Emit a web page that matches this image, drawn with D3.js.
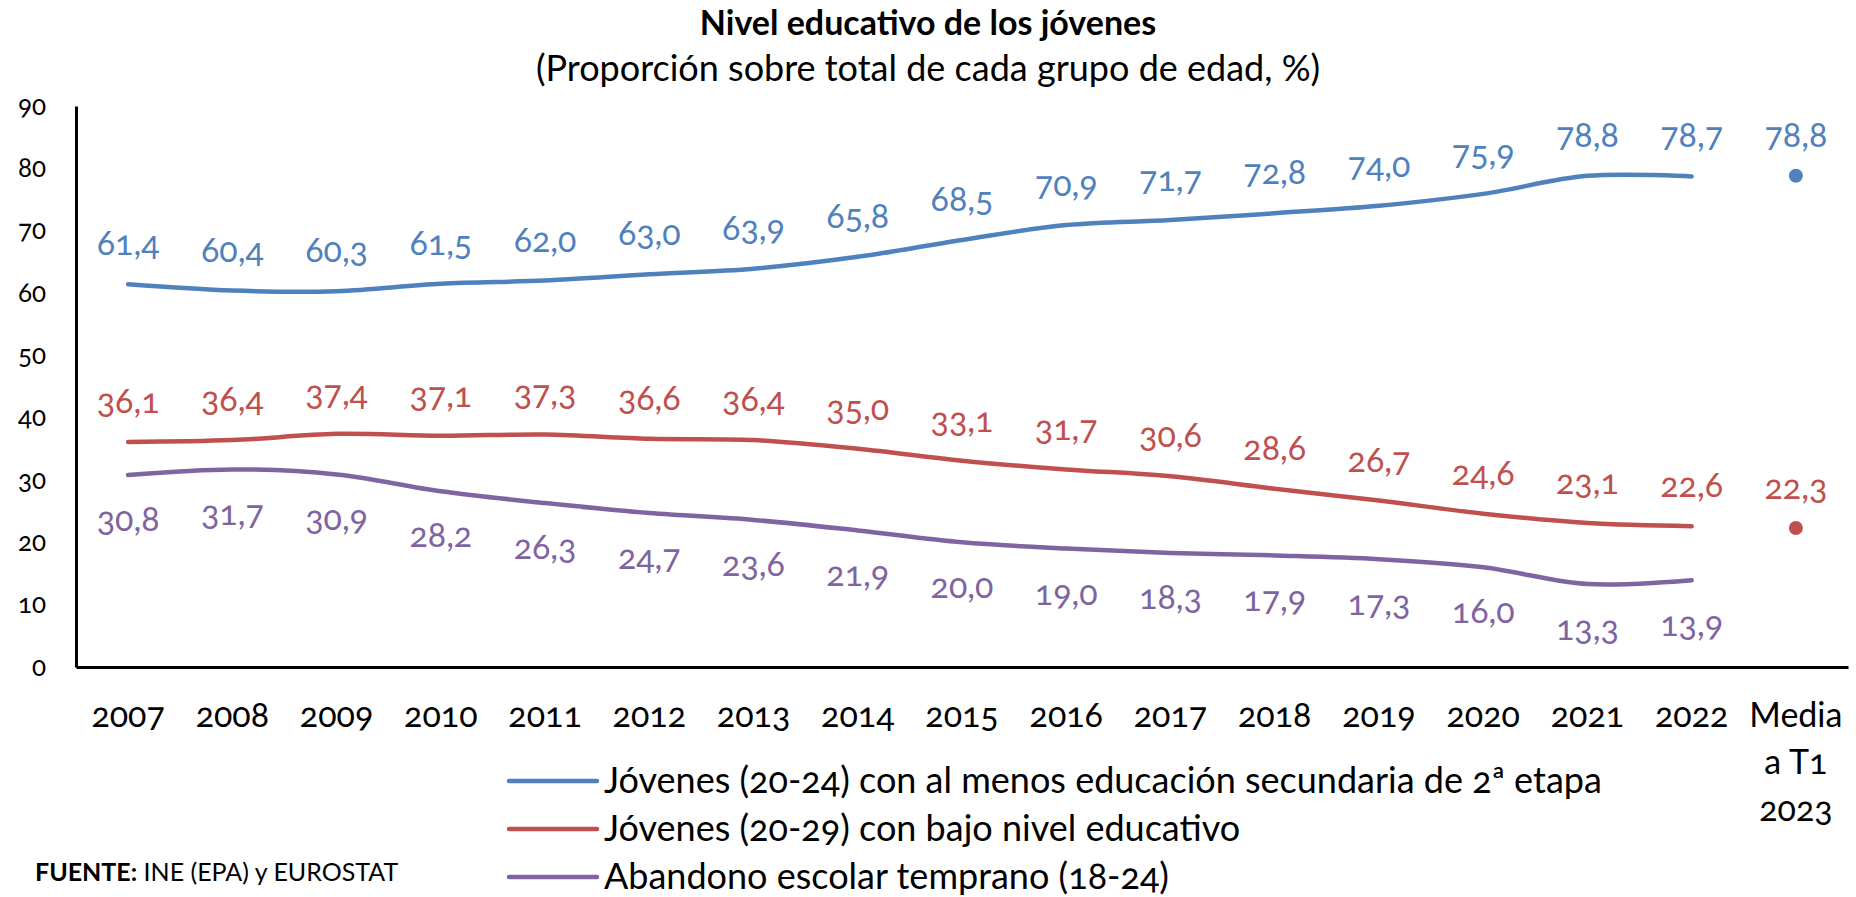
<!DOCTYPE html>
<html>
<head>
<meta charset="utf-8">
<script src="https://cdn.jsdelivr.net/npm/d3@7"></script>
<style>
	body { margin: 0; background: #fff; }
	svg { display: block; font-family: Lato, "Open Sans", sans-serif; font-variant-numeric: oldstyle-nums; }
	.axis path { stroke: #000; stroke-width: 3; }
	.axis text { fill: #000; }
</style>
</head>
<body>
<div id="chart"></div>
<script>
	var categories = ['2007','2008','2009','2010','2011','2012','2013','2014','2015','2016','2017','2018','2019','2020','2021','2022','Media a T1 2023'];
	var yTicks = [0,10,20,30,40,50,60,70,80,90];

	// serie anual 2007-2022 y media a T1 2023 (punto suelto)
	var secundaria = [61.4,60.4,60.3,61.5,62.0,63.0,63.9,65.8,68.5,70.9,71.7,72.8,74.0,75.9,78.8,78.7];
	var secundariaMedia = 78.8;
	var bajoNivel = [36.1,36.4,37.4,37.1,37.3,36.6,36.4,35.0,33.1,31.7,30.6,28.6,26.7,24.6,23.1,22.6];
	var bajoNivelMedia = 22.3;
	var abandono = [30.8,31.7,30.9,28.2,26.3,24.7,23.6,21.9,20.0,19.0,18.3,17.9,17.3,16.0,13.3,13.9];

	var seriesNames = [
		'Jóvenes (20-24) con al menos educación secundaria de 2ª etapa',
		'Jóvenes (20-29) con bajo nivel educativo',
		'Abandono escolar temprano (18-24)'
	];
	var colors = ['#4F81BD', '#C0504D', '#8064A2'];

	var width = 1856, height = 897,
		plotLeft = 76, plotRight = 1848, plotTop = 106, plotBottom = 667;

	var svg = d3.select('#chart')
		.append('svg')
		.attr('width', width)
		.attr('height', height);

	var x = d3.scaleBand()
		.domain(categories)
		.range([plotLeft, plotRight]);

	var y = d3.scaleLinear()
		.domain([0, 90])
		.range([plotBottom, plotTop]);

	function cx(i) { return x(categories[i]) + x.bandwidth()/2; }

	// titulo
	svg.append('text')
		.attr('x', width/2)
		.attr('y', 35)
		.attr('text-anchor', 'middle')
		.style('font-size', '34px')
		.style('font-weight', 'bold')
		.text('Nivel educativo de los jóvenes');

	svg.append('text')
		.attr('x', width/2)
		.attr('y', 81)
		.attr('text-anchor', 'middle')
		.style('font-size', '36px')
		.text('(Proporción sobre total de cada grupo de edad, %)');

	// ejes
	var yAxis = svg.append('g')
		.attr('class', 'axis')
		.attr('transform', 'translate(' + plotLeft + ',0)')
		.call(d3.axisLeft(y).tickValues(yTicks).tickSize(0).tickPadding(30).tickSizeOuter(0));
	yAxis.attr('font-family', null).attr('font-size', null);
	yAxis.selectAll('text').style('font-size', '26px');

	var xAxis = svg.append('g')
		.attr('class', 'axis')
		.attr('transform', 'translate(0,' + plotBottom + ')')
		.call(d3.axisBottom(x).tickSize(0).tickSizeOuter(0).tickFormat(''));
	xAxis.attr('font-family', null).attr('font-size', null);

	xAxis.selectAll('.tick')
		.append('text')
		.attr('fill', '#000')
		.style('font-size', '34px')
		.attr('text-anchor', 'middle')
		.each(function(d) {
			var lines = d === 'Media a T1 2023' ? ['Media', 'a T1', '2023'] : [d];
			var t = d3.select(this);
			lines.forEach(function(l, i) {
				t.append('tspan')
					.attr('x', 0)
					.attr('y', 60 + i*47)
					.text(l);
			});
		});

	// lineas
	var line = d3.line()
		.x(function(d, i) { return cx(i); })
		.y(function(d) { return y(d); })
		.curve(d3.curveCatmullRom.alpha(0.5));

	var all = [secundaria, bajoNivel, abandono];
	var labelDy = [-29, -29, 56];

	all.forEach(function(s, k) {
		svg.append('path')
			.attr('d', line(s))
			.attr('fill', 'none')
			.attr('stroke', colors[k])
			.attr('stroke-width', 4.5)
			.attr('stroke-linecap', 'round');

		svg.append('g')
			.selectAll('text')
			.data(s)
			.enter()
			.append('text')
			.attr('x', function(d, i) { return cx(i); })
			.attr('y', function(d) { return y(d) + labelDy[k]; })
			.attr('text-anchor', 'middle')
			.attr('fill', colors[k])
			.style('font-size', '34px')
			.text(function(d) { return d.toFixed(1).replace('.', ','); });
	});

	// medias a T1 2023
	[[secundariaMedia, 0], [bajoNivelMedia, 1]].forEach(function(m) {
		var i = categories.length - 1;
		svg.append('circle')
			.attr('cx', cx(i))
			.attr('cy', y(m[0]))
			.attr('r', 7)
			.attr('fill', colors[m[1]]);
		svg.append('text')
			.attr('x', cx(i))
			.attr('y', y(m[0]) + labelDy[m[1]])
			.attr('text-anchor', 'middle')
			.attr('fill', colors[m[1]])
			.style('font-size', '34px')
			.text(m[0].toFixed(1).replace('.', ','));
	});

	// leyenda
	var legend = svg.append('g')
		.attr('transform', 'translate(509,781)');

	seriesNames.forEach(function(name, k) {
		var g = legend.append('g').attr('transform', 'translate(0,' + (k*48) + ')');
		g.append('line')
			.attr('x1', 0).attr('x2', 88)
			.attr('y1', 0).attr('y2', 0)
			.attr('stroke', colors[k])
			.attr('stroke-width', 4.5)
			.attr('stroke-linecap', 'round');
		g.append('text')
			.attr('x', 95)
			.attr('y', 12)
			.style('font-size', '36px')
			.text(name);
	});

	// fuente
	var src = svg.append('text')
		.attr('x', 35)
		.attr('y', 881)
		.style('font-size', '25px');
	src.append('tspan').style('font-weight', 'bold').text('FUENTE:');
	src.append('tspan').text(' INE (EPA) y EUROSTAT');
</script>
</body>
</html>
